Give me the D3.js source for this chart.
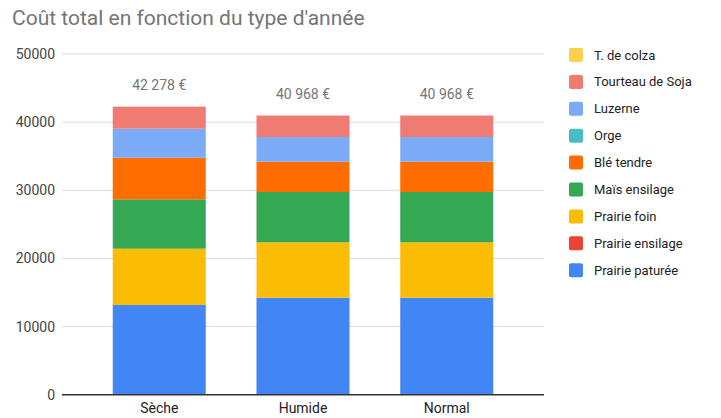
<!DOCTYPE html>
<html>
<head>
<meta charset="utf-8">
<script src="https://cdn.jsdelivr.net/npm/d3@7"></script>
<style>
  body { margin: 0; background: #fff; }
  text { font-family: Roboto, Arial, sans-serif; }
</style>
</head>
<body>
<div id="chart"></div>
<script>
var years = ['Sèche', 'Humide', 'Normal'];

// bottom to top
var seriesKeys = ['Prairie paturée', 'Prairie ensilage', 'Prairie foin', 'Maïs ensilage',
    'Blé tendre', 'Orge', 'Luzerne', 'Tourteau de Soja', 'T. de colza'];

var seriesColors = ['#4285f4', '#ea4335', '#fbbc04', '#34a853',
    '#ff6d01', '#46bdc6', '#7baaf7', '#f07b72', '#fcd04f'];

var prairiePaturee = [13164, 14236, 14236];
var prairieEnsilage = [0, 0, 0];
var prairieFoin = [8263, 8128, 8128];
var maisEnsilage = [7249, 7384, 7384];
var bleTendre = [6106, 4447, 4447];
var orge = [0, 0, 0];
var luzerne = [4255, 3624, 3624];
var tourteauSoja = [3241, 3149, 3149];
var tColza = [0, 0, 0];

var totalLabels = ['42 278 €', '40 968 €', '40 968 €'];
var yTicks = [0, 10000, 20000, 30000, 40000, 50000];

var seriesValues = [prairiePaturee, prairieEnsilage, prairieFoin, maisEnsilage,
    bleTendre, orge, luzerne, tourteauSoja, tColza];

var rows = years.map(function (y, i) {
    var r = { year: y };
    seriesKeys.forEach(function (k, j) { r[k] = seriesValues[j][i]; });
    return r;
});

var width = 721, height = 418;
var svg = d3.select('#chart').append('svg')
    .attr('width', width)
    .attr('height', height);

var x = d3.scaleBand().domain(years).range([62, 544]).padding(0.353);
var y = d3.scaleLinear().domain([0, 50000]).range([394.7, 54]);

// title
svg.append('text')
    .attr('x', 12).attr('y', 24.5)
    .attr('font-size', 21)
    .attr('fill', '#757575')
    .text("Coût total en fonction du type d'année");

// gridlines
svg.append('g').selectAll('line')
    .data(yTicks.filter(function (d) { return d > 0; }))
    .enter().append('line')
    .attr('x1', 62).attr('x2', 544)
    .attr('y1', function (d) { return y(d); })
    .attr('y2', function (d) { return y(d); })
    .attr('stroke', '#d9d9d9')
    .attr('stroke-width', 1);

// y labels
var yAxis = svg.append('g')
    .attr('transform', 'translate(55,0)')
    .call(d3.axisLeft(y).tickValues(yTicks).tickSize(0).tickPadding(0).tickFormat(d3.format('d')));
yAxis.select('.domain').remove();
yAxis.selectAll('text')
    .attr('font-size', 14)
    .attr('fill', '#444')
    .style('font-family', 'Roboto, Arial, sans-serif');

// stacked bars
var stacked = d3.stack().keys(seriesKeys)(rows);
svg.append('g').selectAll('g')
    .data(stacked)
    .enter().append('g')
    .attr('fill', function (d, i) { return seriesColors[i]; })
    .selectAll('rect')
    .data(function (d) { return d; })
    .enter().append('rect')
    .attr('x', function (d) { return x(d.data.year); })
    .attr('y', function (d) { return y(d[1]); })
    .attr('width', x.bandwidth())
    .attr('height', function (d) { return y(d[0]) - y(d[1]); });

// baseline
svg.append('line')
    .attr('x1', 62).attr('x2', 544)
    .attr('y1', y(0)).attr('y2', y(0))
    .attr('stroke', '#333')
    .attr('stroke-width', 1.5);

// total labels
svg.append('g').selectAll('text')
    .data(rows)
    .enter().append('text')
    .attr('x', function (d) { return x(d.year) + x.bandwidth() / 2; })
    .attr('y', function (d) {
        var tot = d3.sum(seriesKeys, function (k) { return d[k]; });
        return y(tot) - 17;
    })
    .attr('text-anchor', 'middle')
    .attr('font-size', 14)
    .attr('fill', '#757575')
    .text(function (d, i) { return totalLabels[i]; });

// x labels
var xAxis = svg.append('g')
    .attr('transform', 'translate(0,' + y(0) + ')')
    .call(d3.axisBottom(x).tickSize(0).tickPadding(8));
xAxis.select('.domain').remove();
xAxis.selectAll('text')
    .attr('font-size', 14)
    .attr('fill', '#222')
    .style('font-family', 'Roboto, Arial, sans-serif');

// legend (top item is the last series)
var legendItems = seriesKeys.slice().reverse();
var legendColors = seriesColors.slice().reverse();
var legend = svg.append('g').selectAll('g')
    .data(legendItems)
    .enter().append('g')
    .attr('transform', function (d, i) { return 'translate(569,' + (55 + i * 26.9) + ')'; });

legend.append('rect')
    .attr('x', 0).attr('y', -7)
    .attr('width', 14).attr('height', 14)
    .attr('rx', 2)
    .attr('fill', function (d, i) { return legendColors[i]; });

legend.append('text')
    .attr('x', 25).attr('y', 4.5)
    .attr('font-size', 13)
    .attr('fill', '#222')
    .text(function (d) { return d; });
</script>
</body>
</html>
